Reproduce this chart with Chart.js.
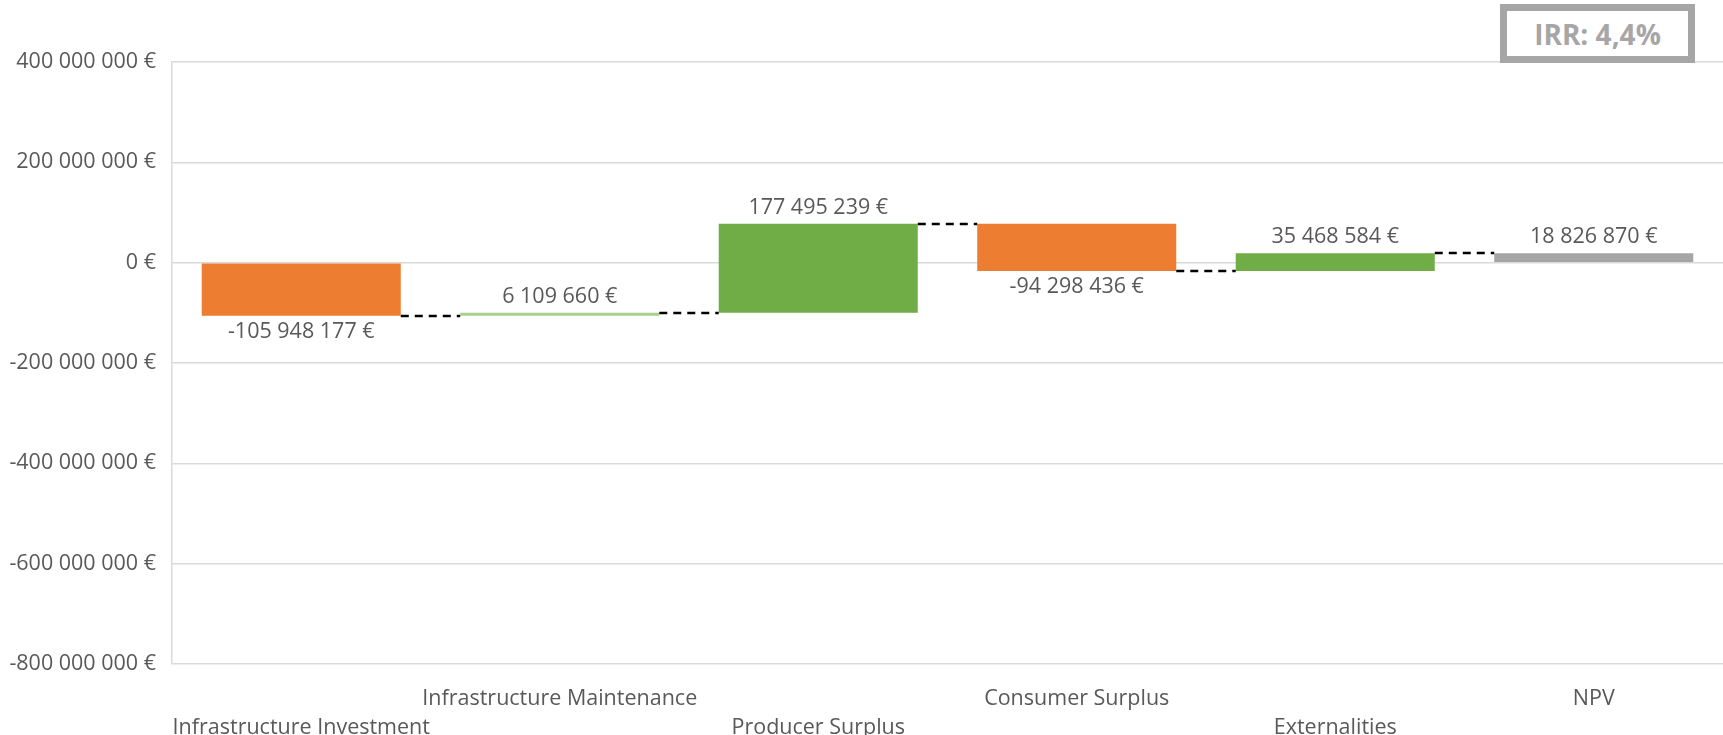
<!DOCTYPE html>
<html>
<head>
<meta charset="utf-8">
<script src="https://cdn.jsdelivr.net/npm/chart.js@4.4.1/dist/chart.umd.min.js"></script>
<style>
  body { margin: 0; background: #fff; }
  #wrap { position: relative; width: 1723px; height: 735px; }
  #irr {
    position: absolute; left: 1500px; top: 4px; width: 195px; height: 59px;
    box-sizing: border-box; border: 7px solid #a6a6a6; background: #fff;
    color: #a6a6a6; font: bold 28px "Open Sans", sans-serif;
    display: flex; align-items: center; justify-content: center;
  }
</style>
</head>
<body>
<div id="wrap">
  <canvas id="chart" width="1723" height="735"></canvas>
  <div id="irr"></div>
</div>
<script>
const categories = ["Infrastructure Investment", "Infrastructure Maintenance", "Producer Surplus", "Consumer Surplus", "Externalities", "NPV"];
const stepValues = [-105948177, 6109660, 177495239, -94298436, 35468584];
const npvValue = 18826870;
const barColors = ["#ed7d31", "#a9d18e", "#70ad47", "#ed7d31", "#70ad47", "#a5a5a5"];
const yTicks = [-800000000, -600000000, -400000000, -200000000, 0, 200000000, 400000000];
const irrLabel = "IRR: 4,4%";

const TEXT_COLOR = "#595959";
const FONT_SIZE = 21.5;

document.getElementById("irr").textContent = irrLabel;
Chart.defaults.font.family = "'Open Sans', sans-serif";

// floating bars: each step starts where the running total stopped
const ranges = [];
const levels = [];
let total = 0;
stepValues.forEach(v => {
    ranges.push([total, total + v]);
    total += v;
    levels.push(total);
});
ranges.push([0, npvValue]);
const labelValues = stepValues.concat([npvValue]);

function formatEuro(v) {
    const sign = v < 0 ? "-" : "";
    const digits = Math.abs(Math.round(v)).toString().replace(/\B(?=(\d{3})+(?!\d))/g, " ");
    return `${sign}${digits} €`;
}

const connectorPlugin = {
    id: "connectors",
    afterDatasetsDraw(chart) {
        const meta = chart.getDatasetMeta(0);
        const yScale = chart.scales.y;
        const ctx = chart.ctx;
        ctx.save();
        ctx.strokeStyle = "#000";
        ctx.lineWidth = 2.5;
        ctx.setLineDash([8, 6]);
        for (let i = 0; i < levels.length; i++) {
            const a = meta.data[i];
            const b = meta.data[i + 1];
            const py = Math.round(yScale.getPixelForValue(levels[i]));
            ctx.beginPath();
            ctx.moveTo(a.x + a.width / 2, py);
            ctx.lineTo(b.x - b.width / 2, py);
            ctx.stroke();
        }
        ctx.restore();
    }
};

const valueLabelPlugin = {
    id: "valueLabels",
    afterDatasetsDraw(chart) {
        const meta = chart.getDatasetMeta(0);
        const yScale = chart.scales.y;
        const ctx = chart.ctx;
        ctx.save();
        ctx.fillStyle = TEXT_COLOR;
        ctx.font = `${FONT_SIZE}px 'Open Sans', sans-serif`;
        ctx.textAlign = "center";
        ctx.textBaseline = "middle";
        labelValues.forEach((v, i) => {
            const [start, end] = ranges[i];
            const edge = v >= 0 ? Math.max(start, end) : Math.min(start, end);
            const py = yScale.getPixelForValue(edge) + (v >= 0 ? -16 : 16);
            ctx.fillText(formatEuro(v), meta.data[i].x, py);
        });
        ctx.restore();
    }
};

new Chart(document.getElementById("chart"), {
    type: "bar",
    data: {
        labels: categories,
        datasets: [{
            data: ranges,
            backgroundColor: barColors,
            borderWidth: 0,
            categoryPercentage: 1,
            barPercentage: 0.77
        }]
    },
    options: {
        responsive: false,
        animation: false,
        layout: { padding: { top: 62, right: 0, bottom: 0, left: 0 } },
        plugins: { legend: { display: false }, tooltip: { enabled: false } },
        scales: {
            x: {
                grid: { display: false },
                border: { display: false },
                ticks: {
                    color: TEXT_COLOR,
                    font: { size: FONT_SIZE, lineHeight: 1.33 },
                    maxRotation: 0,
                    minRotation: 0,
                    autoSkip: false,
                    padding: 13,
                    // alternate rows so the long names don't collide
                    callback(value, index) {
                        const name = categories[index];
                        return index % 2 === 0 ? ["", name] : [name];
                    }
                },
                afterFit(scale) { scale.height = 71; }
            },
            y: {
                min: yTicks[0],
                max: yTicks[yTicks.length - 1],
                afterBuildTicks(scale) { scale.ticks = yTicks.map(v => ({ value: v })); },
                grid: { color: "#d9d9d9", lineWidth: 1.5, drawTicks: false },
                border: { color: "#d9d9d9", width: 1.5 },
                ticks: {
                    color: TEXT_COLOR,
                    font: { size: FONT_SIZE },
                    padding: 16,
                    callback: v => formatEuro(v)
                },
                afterFit(scale) { scale.width = 172; }
            }
        }
    },
    plugins: [connectorPlugin, valueLabelPlugin]
});
</script>
</body>
</html>
